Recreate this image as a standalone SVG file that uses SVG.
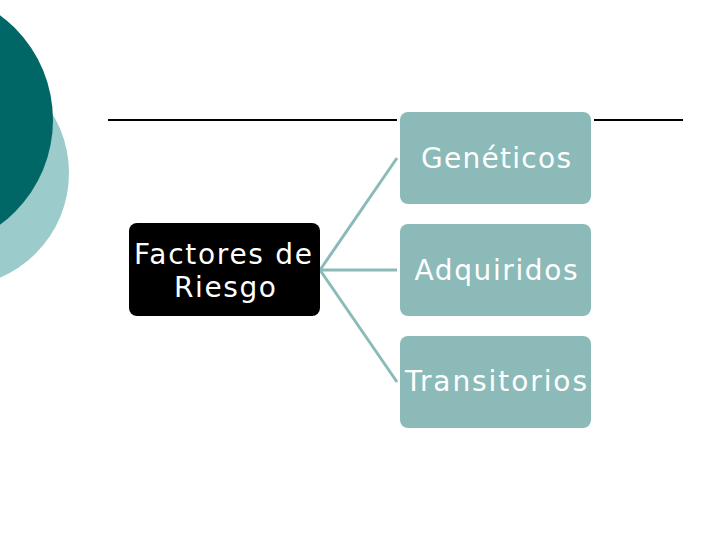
<svg xmlns="http://www.w3.org/2000/svg" width="720" height="540" viewBox="0 0 720 540">
<style>
.child{fill:#8bbab9}
.ctext{fill:#ffffff;font-family:"DejaVu Sans",Verdana,sans-serif;font-size:28px;text-anchor:middle}
.conn{stroke:#8bbab9;stroke-width:3;fill:none}
.rule{stroke:#000;stroke-width:2}
</style>
<rect width="720" height="540" fill="#ffffff"/>
<g id="decor">
<circle cx="-45" cy="173" r="114" fill="#9ccbcb"/>
<circle cx="-77" cy="120" r="130" fill="#006666"/>
<line class="rule" x1="108" y1="120" x2="397" y2="120"/>
<line class="rule" x1="594" y1="120" x2="683" y2="120"/>
</g>
<g id="connectors">
<line class="conn" x1="320" y1="270" x2="397" y2="158"/>
<line class="conn" x1="320" y1="270" x2="397" y2="270"/>
<line class="conn" x1="320" y1="270" x2="397" y2="382"/>
</g>
<g id="factores">
<rect x="129" y="223" width="191" height="93" rx="8" fill="#000"/>
<text class="ctext" x="223" y="264" textLength="178" lengthAdjust="spacing">Factores de</text>
<text class="ctext" x="225" y="297" textLength="102" lengthAdjust="spacing">Riesgo</text>
</g>
<g id="geneticos">
<rect class="child" x="400" y="112" width="191" height="92" rx="8"/>
<text class="ctext" x="496" y="168" textLength="150" lengthAdjust="spacing">Genéticos</text>
</g>
<g id="adquiridos">
<rect class="child" x="400" y="224" width="191" height="92" rx="8"/>
<text class="ctext" x="496" y="280" textLength="163" lengthAdjust="spacing">Adquiridos</text>
</g>
<g id="transitorios">
<rect class="child" x="400" y="336" width="191" height="92" rx="8"/>
<text class="ctext" x="496" y="391" textLength="182" lengthAdjust="spacing">Transitorios</text>
</g>
</svg>
